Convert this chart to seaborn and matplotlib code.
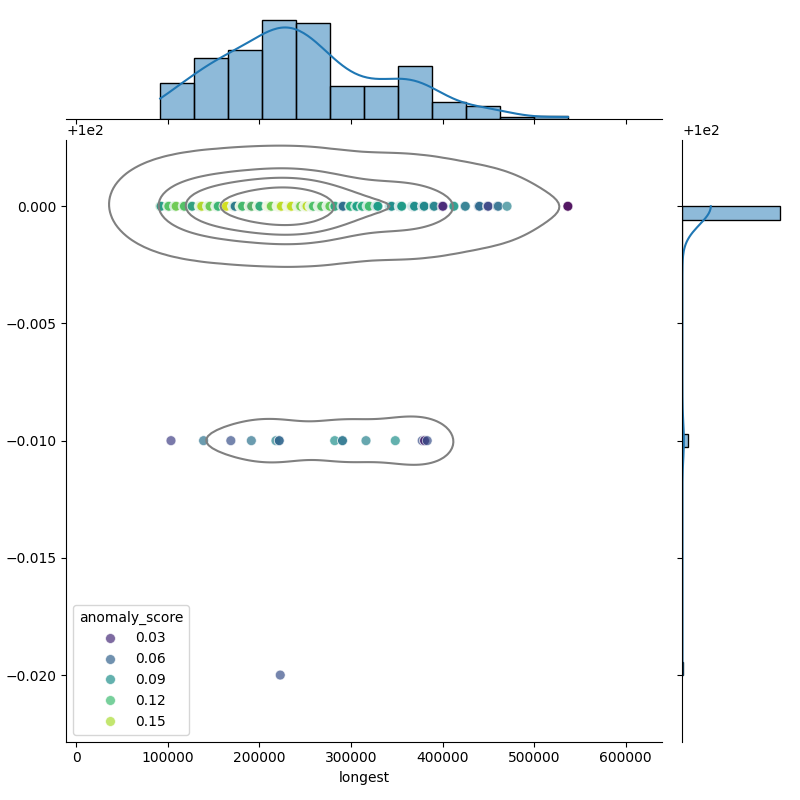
import numpy as np
import pandas as pd
import seaborn as sns
from matplotlib import pyplot as plt


# identity values that occur in the data (one row of points each)
identity_levels = [100.0, 99.99, 99.98]

# longest (in thousands) and anomaly score of the points at identity 100.0
longest_k_100 = [
    91.5, 91.5, 92, 92.5, 99.5, 100, 100.5, 101, 107, 107.5, 108, 108.5, 109,
    116.5, 117, 117.5, 118, 125, 125.5, 126, 126.5,
    134, 134.5, 135, 135, 135.5, 136, 136, 136.5, 137,
    143, 143.5, 144, 144, 144.5, 145, 145, 145.5, 146,
    152, 152.5, 153, 153, 153.5, 154, 154, 154.5, 155,
    161, 161.5, 162, 162, 162.5, 163, 163, 163.5, 164,
    170.5, 171, 171, 171.5, 172, 172, 172.5, 173, 173, 173.5,
    178.5, 179, 179, 179.5, 180, 180, 180.5, 181, 181, 181.5,
    188.5, 189, 189, 189.5, 190, 190, 190.5, 191, 191, 191.5,
    197.5, 198, 198, 198.5, 199, 199, 199.5, 200, 200, 200.5,
    208, 208.5, 209, 209, 209.5, 209.5, 210, 210, 210, 210.5, 210.5, 211, 211, 211.5, 211.5, 212, 212, 212.5, 213,
    219, 219.5, 220, 220, 220.5, 220.5, 221, 221, 221.5, 221.5, 222, 222, 222.5, 222.5, 223, 223, 223.5, 224,
    230, 230.5, 231, 231, 231.5, 231.5, 232, 232, 232, 232.5, 232.5, 233, 233, 233.5, 233.5, 234, 234, 234.5, 235,
    241, 241.5, 242, 242, 242.5, 243, 243, 243.5, 244, 244, 244.5, 245,
    248.5, 249, 249, 249.5, 250, 250, 250.5, 251, 251, 251.5, 252,
    255, 255.5, 256, 256, 256.5, 257, 257, 257.5, 258, 258, 258.5, 259,
    264, 264.5, 265, 265, 265.5, 266, 266, 266.5, 267, 267, 267.5, 268,
    273.5, 274, 274, 274.5, 275, 275, 275.5, 276, 276, 276.5, 277,
    281.5, 282, 282.5, 290, 290.5, 291, 291.5, 298.5, 299, 299.5, 305, 305.5, 306, 306.5, 311.5, 312, 312.5,
    317.5, 318, 318.5, 319, 319.5, 320, 327, 327.5, 328, 328.5, 329, 329.5, 342, 342.5, 343, 343.5, 344, 344.5,
    352.5, 353, 353, 353.5, 354, 354, 354.5, 355, 355, 355.5,
    366.5, 367, 367, 367.5, 368, 368, 368.5, 369, 369, 369.5,
    378, 378.5, 378.5, 379, 379, 379.5, 380, 380,
    390, 390.5, 391, 399.5, 400, 400.5, 412, 412.5, 424.5, 425,
    439.5, 440, 440.5, 449, 449.5, 450, 460, 461,
    470.5, 537, 537,
]
score_100 = [
    0.12, 0.14, 0.08, 0.10, 0.10, 0.15, 0.11, 0.13, 0.12, 0.09, 0.15, 0.11, 0.14,
    0.13, 0.10, 0.15, 0.12, 0.14, 0.12, 0.13, 0.09,
    0.12, 0.14, 0.09, 0.16, 0.13, 0.11, 0.15, 0.12, 0.16,
    0.13, 0.15, 0.10, 0.14, 0.12, 0.16, 0.11, 0.15, 0.13,
    0.14, 0.11, 0.16, 0.12, 0.15, 0.13, 0.10, 0.14, 0.11,
    0.12, 0.16, 0.13, 0.15, 0.11, 0.14, 0.12, 0.17, 0.16,
    0.13, 0.15, 0.11, 0.14, 0.12, 0.16, 0.10, 0.13, 0.08, 0.07,
    0.14, 0.12, 0.16, 0.13, 0.15, 0.11, 0.14, 0.12, 0.15, 0.11,
    0.15, 0.13, 0.16, 0.12, 0.14, 0.11, 0.16, 0.13, 0.05, 0.13,
    0.12, 0.15, 0.13, 0.16, 0.11, 0.14, 0.12, 0.15, 0.13, 0.10,
    0.15, 0.13, 0.16, 0.14, 0.12, 0.17, 0.15, 0.13, 0.16, 0.14, 0.11, 0.15, 0.16, 0.13, 0.14, 0.12, 0.16, 0.15, 0.13,
    0.14, 0.16, 0.12, 0.15, 0.17, 0.13, 0.16, 0.14, 0.15, 0.12, 0.16, 0.13, 0.17, 0.15, 0.14, 0.16, 0.13, 0.16,
    0.13, 0.15, 0.16, 0.14, 0.12, 0.17, 0.15, 0.13, 0.16, 0.14, 0.15, 0.12, 0.16, 0.14, 0.17, 0.13, 0.15, 0.14, 0.16,
    0.14, 0.12, 0.16, 0.15, 0.13, 0.11, 0.15, 0.14, 0.16, 0.12, 0.13, 0.14,
    0.15, 0.13, 0.16, 0.12, 0.14, 0.17, 0.13, 0.15, 0.12, 0.14, 0.16,
    0.13, 0.15, 0.12, 0.14, 0.16, 0.11, 0.14, 0.13, 0.15, 0.12, 0.14, 0.12,
    0.12, 0.14, 0.15, 0.11, 0.13, 0.16, 0.12, 0.14, 0.10, 0.13, 0.15, 0.12,
    0.13, 0.11, 0.15, 0.12, 0.14, 0.10, 0.13, 0.15, 0.12, 0.14, 0.13,
    0.11, 0.13, 0.10, 0.09, 0.11, 0.08, 0.06, 0.10, 0.12, 0.11, 0.12, 0.09, 0.11, 0.10, 0.08, 0.12, 0.11,
    0.10, 0.12, 0.09, 0.11, 0.13, 0.12, 0.11, 0.08, 0.12, 0.10, 0.09, 0.10, 0.09, 0.11, 0.07, 0.10, 0.08, 0.09,
    0.08, 0.10, 0.07, 0.09, 0.11, 0.08, 0.06, 0.10, 0.09, 0.10,
    0.09, 0.07, 0.10, 0.06, 0.08, 0.09, 0.07, 0.10, 0.08, 0.09,
    0.07, 0.09, 0.06, 0.08, 0.05, 0.09, 0.07, 0.09,
    0.07, 0.09, 0.08, 0.03, 0.02, 0.03, 0.08, 0.10, 0.06, 0.08,
    0.06, 0.05, 0.07, 0.05, 0.06, 0.04, 0.06, 0.07,
    0.08, 0.01, 0.01,
]

# points at identity 99.99 and 99.98
longest_k_9999 = [103.3, 138.9, 168.7, 191.1, 218.0, 221.6, 221.6, 282.2, 290.7, 290.7,
                  316.4, 348.4, 377.8, 380.4, 380.4, 383.3]
score_9999 = [0.04, 0.07, 0.05, 0.07, 0.08, 0.07, 0.06, 0.09, 0.08, 0.07,
              0.08, 0.09, 0.05, 0.05, 0.02, 0.05]
longest_k_9998 = [222.7]
score_9998 = [0.05]


def build_frame():
    frames = []
    groups = zip(identity_levels,
                 [longest_k_100, longest_k_9999, longest_k_9998],
                 [score_100, score_9999, score_9998])
    for level, xs, sc in groups:
        frames.append(pd.DataFrame({'longest': np.array(xs) * 1000,
                                    'identity': level,
                                    'anomaly_score': sc}))
    return pd.concat(frames, ignore_index=True)


df = build_frame()

g = sns.JointGrid(data=df, x='longest', y='identity', height=8)

# joint: scatter coloured by score, density contours on top
sns.scatterplot(data=df, x='longest', y='identity', hue='anomaly_score', palette='viridis',
                alpha=0.7, s=50, ax=g.ax_joint)
sns.kdeplot(data=df, x='longest', y='identity', color='gray', levels=5, ax=g.ax_joint)

# marginals
sns.histplot(data=df, x='longest', kde=True, bins=12, ax=g.ax_marg_x)
sns.histplot(data=df, y='identity', kde=True, bins=35, ax=g.ax_marg_y)

g.fig.savefig('out.png', dpi=100)
plt.close('all')
